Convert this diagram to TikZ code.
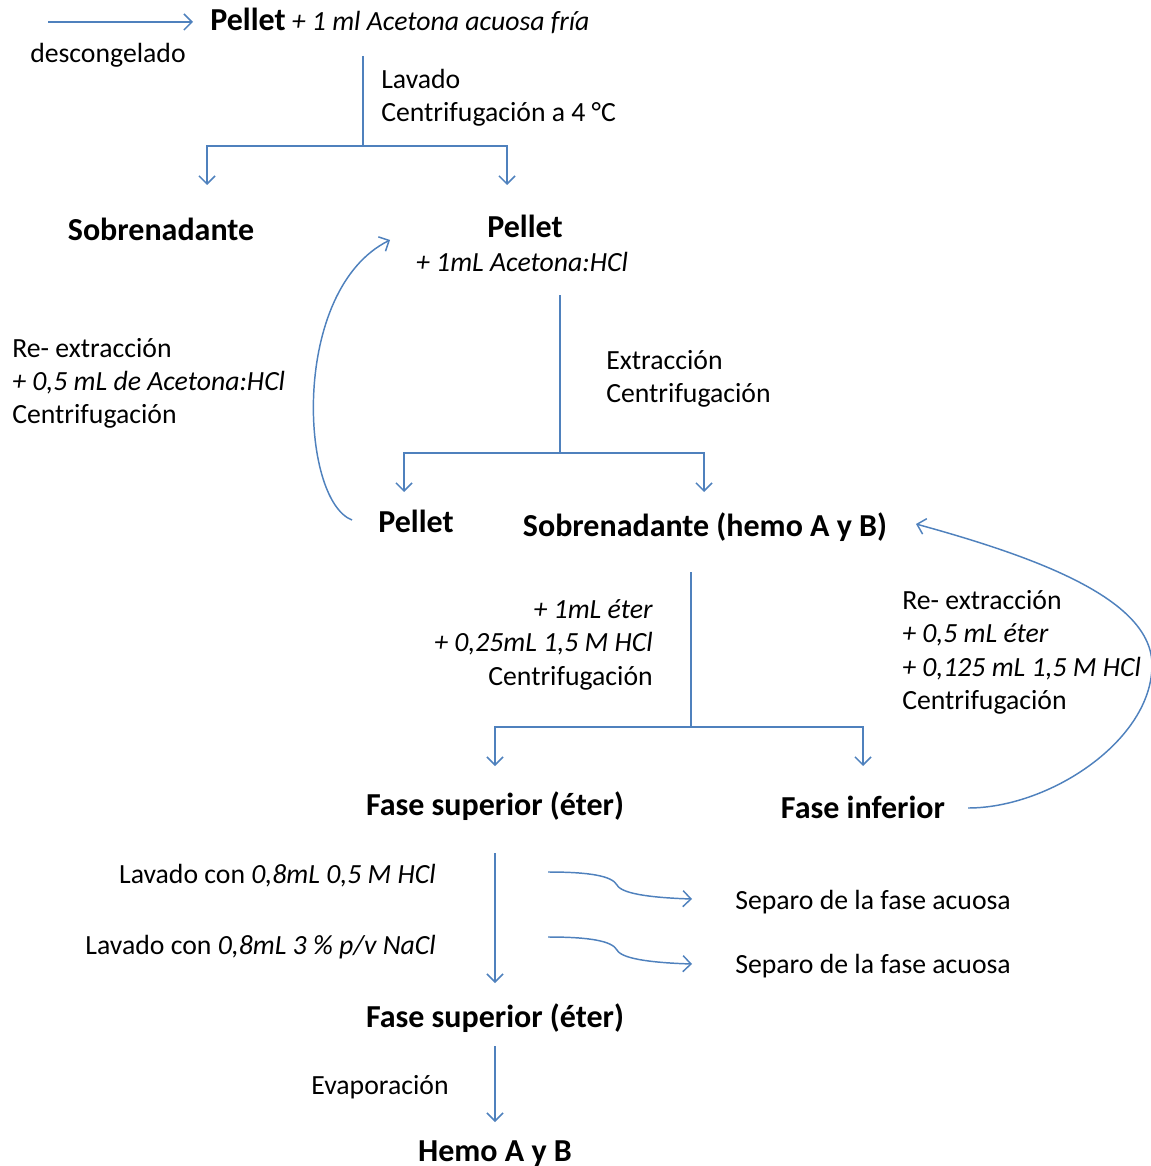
\documentclass[tikz,border=0pt]{standalone}
\usepackage{fontspec}
\setmainfont{Carlito}
\usetikzlibrary{arrows.meta}
\definecolor{lnc}{HTML}{4F81BD}
\begin{document}
\begin{tikzpicture}[x=0.75pt,y=-0.75pt,
 ln/.style={draw=lnc, line width=1.1pt},
 arr/.style={ln, -{Straight Barb[length=6pt,width=12pt]}},
 txt/.style={font=\fontsize{20.8}{25}\selectfont, inner sep=0pt, anchor=base west},
 txtr/.style={txt, anchor=base east},
 bld/.style={font=\fontsize{24}{28}\selectfont\bfseries, inner sep=0pt, anchor=base},
]
\useasboundingbox (0,0) rectangle (1150,1166);

% top
\node[txt] (pel0) at (210,31) {\textbf{\fontsize{24}{28}\selectfont Pellet} \textit{+ 1 ml Acetona acuosa fría}};
\coordinate (in0) at (48,22);
\draw[arr] (in0) -- (193,22);
\node[txt] (desc) at (30,63) {descongelado};

% split 1
\coordinate (s1) at (363,56);
\coordinate (j1) at (363,146);
\coordinate (t1a) at (207,185);
\coordinate (t1b) at (507,185);
\draw[ln] (s1) -- (j1);
\draw[arr] (j1) -| (t1a);
\draw[arr] (j1) -| (t1b);
\node[txt] (lav1) at (381,89) {Lavado};
\node[txt] (cen1) at (381,122) {Centrifugación a 4 °C};

\node[bld] (sob1) at (161,241) {Sobrenadante};
\node[bld] (pel1) at (525,238) {Pellet};
\node[txt, anchor=base] (pel1b) at (522,272) {\textit{+ 1mL Acetona:HCl}};

% re-extraction loop 1
\coordinate (c1s) at (352,520);
\coordinate (c1e) at (390,240);
\draw[arr] (c1s) .. controls (300,500) and (290,290) .. (c1e);
\node[txt] (re1a) at (12,357) {Re- extracción};
\node[txt] (re1b) at (12,390) {\textit{+ 0,5 mL de Acetona:HCl}};
\node[txt] (re1c) at (12,423) {Centrifugación};

% split 2
\coordinate (s2) at (560,295);
\coordinate (j2) at (560,453);
\coordinate (t2a) at (404,492);
\coordinate (t2b) at (704,492);
\draw[ln] (s2) -- (j2);
\draw[arr] (j2) -| (t2a);
\draw[arr] (j2) -| (t2b);
\node[txt] (ext2) at (606,369) {Extracción};
\node[txt] (cen2) at (606,402) {Centrifugación};

\node[bld] (pel2) at (416,532) {Pellet};
\node[bld] (sob2) at (705,536) {Sobrenadante (hemo A y B)};

% split 3
\coordinate (s3) at (691,572);
\coordinate (j3) at (691,727);
\coordinate (t3a) at (495,766);
\coordinate (t3b) at (863,766);
\draw[ln] (s3) -- (j3);
\draw[arr] (j3) -| (t3a);
\draw[arr] (j3) -| (t3b);
\node[txtr] (et1) at (653,618) {\textit{+ 1mL éter}};
\node[txtr] (et2) at (653,651) {\textit{+ 0,25mL 1,5 M HCl}};
\node[txtr] (et3) at (653,685) {Centrifugación};

\node[txt] (re2a) at (902,609) {Re- extracción};
\node[txt] (re2b) at (902,642) {\textit{+ 0,5 mL éter}};
\node[txt] (re2c) at (902,676) {\textit{+ 0,125 mL 1,5 M HCl}};
\node[txt] (re2d) at (902,709) {Centrifugación};

\node[bld] (fs1) at (495,815) {Fase superior (éter)};
\node[bld] (fi) at (863,818) {Fase inferior};

% re-extraction loop 2
\coordinate (c2s) at (968,808);
\coordinate (c2e) at (916,524);
\draw[arr] (c2s) .. controls (1050,808) and (1152,740) .. (1152,665)
  .. controls (1152,600) and (1040,558) .. (c2e);

% washing
\coordinate (w0) at (495,853);
\coordinate (w1) at (495,983);
\draw[arr] (w0) -- (w1);
\node[txtr] (lw1) at (436,883) {Lavado con \textit{0,8mL 0,5 M HCl}};
\node[txtr] (lw2) at (436,954) {Lavado con \textit{0,8mL 3 \% p/v NaCl}};
\coordinate (ca1) at (548,872);
\coordinate (ca2) at (548,937);
\draw[arr] (ca1) .. controls (590,872) and (612,876) .. (617,885) .. controls (622,895) and (660,898) .. (692,899);
\draw[arr] (ca2) .. controls (590,937) and (612,941) .. (617,950) .. controls (622,960) and (660,963) .. (692,964);
\node[txt] (sep1) at (735,909) {Separo de la fase acuosa};
\node[txt] (sep2) at (735,973) {Separo de la fase acuosa};

\node[bld] (fs2) at (495,1027) {Fase superior (éter)};
\coordinate (e0) at (495,1046);
\coordinate (e1) at (495,1122);
\draw[arr] (e0) -- (e1);
\node[txt, anchor=base] (evap) at (380,1094) {Evaporación};
\node[bld] (hemo) at (495,1161) {Hemo A y B};
\end{tikzpicture}
\end{document}
